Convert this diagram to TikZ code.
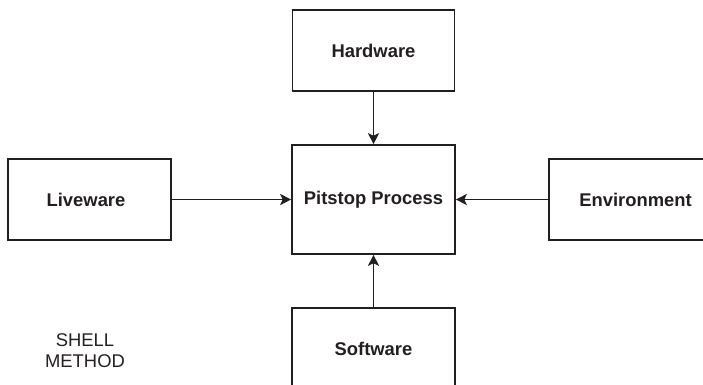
\documentclass[tikz,border=0pt]{standalone}
\usepackage{fontspec}
\setmainfont{Liberation Sans}
\usetikzlibrary{arrows.meta}
\definecolor{ink}{HTML}{231F20}
\begin{document}
\begin{tikzpicture}[x=1pt,y=-1pt,
  box/.style={draw=ink,line width=1.6pt,fill=white,inner sep=0pt,
    font=\fontsize{18.4}{21}\selectfont\bfseries,text=ink,anchor=center},
  conn/.style={draw=ink,line width=1.6pt,-{Stealth[length=11pt,width=11pt,inset=2.5pt]}}]
\useasboundingbox (0,0) rectangle (703,384);
\node[box,minimum width=162pt,minimum height=81pt] (hw) at (373.5,50.5) {Hardware};
\node[box,minimum width=163pt,minimum height=109pt] (pp) at (373.5,199.5) {Pitstop Process};
\node[box,minimum width=163pt,minimum height=81pt] (lw) at (89.5,199.5) {};
\node[font=\fontsize{18.4}{21}\selectfont\bfseries,text=ink] at (86,199.5) {Liveware};
\node[box,minimum width=166pt,minimum height=81pt] (env) at (632,199.5) {};
\node[font=\fontsize{18.4}{21}\selectfont\bfseries,text=ink] at (635.5,199.5) {Environment};
\node[box,minimum width=163pt,minimum height=81pt] (sw) at (373.5,348.5) {Software};
\node[align=center,font=\fontsize{18.4}{21.3}\selectfont,text=ink] (sm) at (85,351) {SHELL\\METHOD};
\draw[conn] (hw.south) -- (pp.north);
\draw[conn] (lw.east) -- (pp.west);
\draw[conn] (env.west) -- (pp.east);
\draw[conn] (sw.north) -- (pp.south);
\end{tikzpicture}
\end{document}
